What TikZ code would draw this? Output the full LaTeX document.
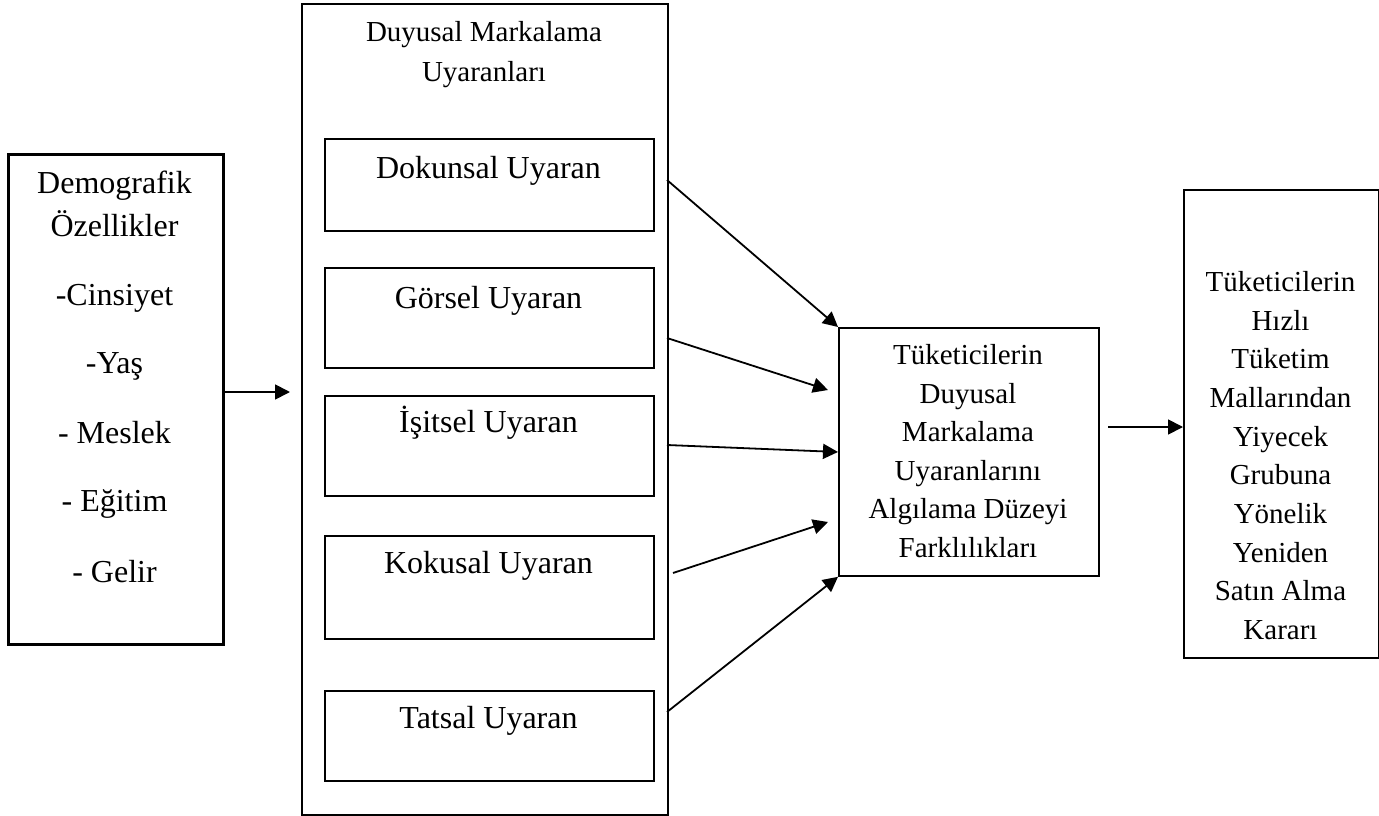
\documentclass[tikz,border=0pt]{standalone}
\usepackage{fontspec}
\setmainfont{Liberation Serif}
\usetikzlibrary{arrows.meta}
\begin{document}
\begin{tikzpicture}[x=1pt,y=-1pt,
  box/.style={draw, line width=1.8pt, inner sep=0pt, anchor=north west},
  thickbox/.style={box, line width=2.8pt},
  big/.style={font=\fontsize{32}{38}\selectfont, inner sep=0pt, text height=21pt, text depth=0pt},
  small/.style={font=\fontsize{29}{38}\selectfont, inner sep=0pt, text height=19pt, text depth=0pt},
  arr/.style={-{Triangle[length=15pt,width=15pt]}, line width=1.8pt}
]
\fill[white] (0,0) rectangle (1379,816);
\useasboundingbox (0,0) rectangle (1379,816);

% demographic characteristics
\node[thickbox, minimum width=215pt, minimum height=490pt] (demo) at (7,153) {};
\node[big] (d1) at (114.5,183) {Demografik};
\node[big] (d2) at (114.5,226) {Özellikler};
\foreach \t/\y [count=\i] in {-Cinsiyet/295, -Yaş/363, - Meslek/433, - Eğitim/501, - Gelir/572}
  \node[big] (dl\i) at (114.5,\y) {\t};

% sensory branding stimuli
\node[box, minimum width=366pt, minimum height=811pt] (stim) at (301,3) {};
\node[small] (s1t) at (484,32) {Duyusal Markalama};
\node[small] (s2t) at (484,72) {Uyaranları};

\node[box, minimum width=329pt, minimum height=92pt]  (dok) at (324,138) {};
\node[box, minimum width=329pt, minimum height=100pt] (gor) at (324,267) {};
\node[box, minimum width=329pt, minimum height=100pt] (isi) at (324,395) {};
\node[box, minimum width=329pt, minimum height=103pt] (kok) at (324,535) {};
\node[box, minimum width=329pt, minimum height=90pt]  (tat) at (324,690) {};
\node[big] (dokt) at (488.5,168) {Dokunsal Uyaran};
\node[big] (gort) at (488.5,298) {Görsel Uyaran};
\node[big] (isit) at (488.5,422) {İşitsel Uyaran};
\node[big] (kokt) at (488.5,563) {Kokusal Uyaran};
\node[big] (tatt) at (488.5,718) {Tatsal Uyaran};

% perception level
\node[box, minimum width=260pt, minimum height=248pt] (cen) at (838,327) {};
\foreach \t [count=\i from 0] in {Tüketicilerin, Duyusal, Markalama, Uyaranlarını, Algılama Düzeyi, Farklılıkları}
  \node[small] (c\i) at (968,355+38.6*\i) {\t};

% repurchase decision
\node[box, minimum width=195pt, minimum height=468pt] (res) at (1183,189) {};
\foreach \t [count=\i from 0] in {Tüketicilerin, Hızlı, Tüketim, Mallarından, Yiyecek, Grubuna, Yönelik, Yeniden, Satın Alma, Kararı}
  \node[small] (r\i) at (1280.5,282+38.67*\i) {\t};

% connector end points
\coordinate (a0s) at (222,392);
\coordinate (a0e) at (290,392);
\coordinate (a1s) at (667,180);
\coordinate (a2s) at (667,338);
\coordinate (a2e) at (828,390);
\coordinate (a3s) at (667,445);
\coordinate (a3e) at (838,452);
\coordinate (a4s) at (673,573);
\coordinate (a4e) at (828,522);
\coordinate (a5s) at (667,712);
\coordinate (a6s) at (1108,427);
\coordinate (a6e) at (1183,427);

\draw[arr] (a0s) -- (a0e);
\draw[arr] (a1s) -- (cen.north west);
\draw[arr] (a2s) -- (a2e);
\draw[arr] (a3s) -- (a3e);
\draw[arr] (a4s) -- (a4e);
\draw[arr] (a5s) -- (cen.south west);
\draw[arr] (a6s) -- (a6e);
\end{tikzpicture}
\end{document}
